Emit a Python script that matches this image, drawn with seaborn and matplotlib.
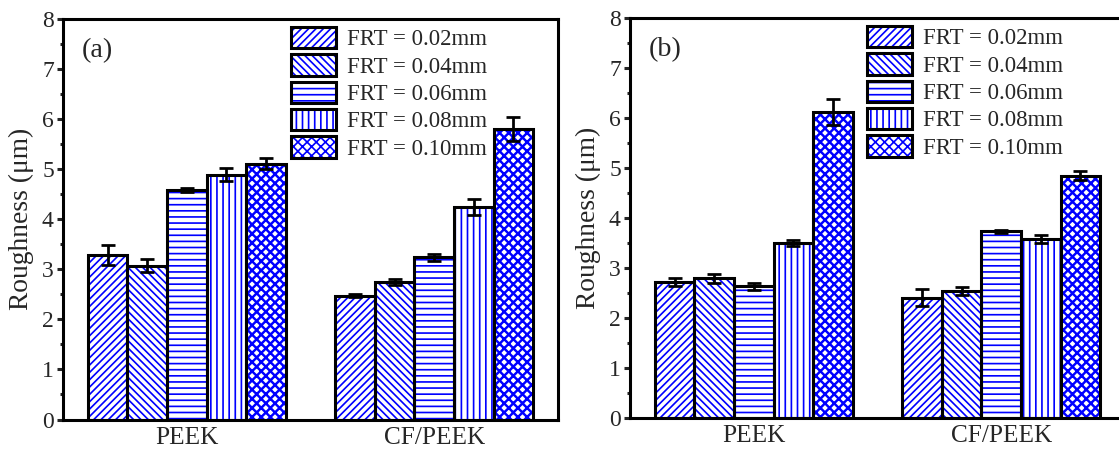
import numpy as np
import pandas as pd
import matplotlib
matplotlib.use("Agg")
import matplotlib.pyplot as plt
import seaborn as sns
from matplotlib.patches import Rectangle, Patch
from matplotlib.ticker import MultipleLocator
from matplotlib.legend_handler import HandlerTuple

# ---- data -------------------------------------------------------------
materials = ["PEEK", "CF/PEEK"]
frt_labels = ["FRT = 0.02mm", "FRT = 0.04mm", "FRT = 0.06mm",
              "FRT = 0.08mm", "FRT = 0.10mm"]

# panel (a)
rough_a_peek = [3.29, 3.07, 4.59, 4.89, 5.11]
err_a_peek = [0.20, 0.13, 0.04, 0.13, 0.11]
rough_a_cf = [2.47, 2.75, 3.24, 4.25, 5.81]
err_a_cf = [0.03, 0.06, 0.07, 0.16, 0.24]

# panel (b)
rough_b_peek = [2.72, 2.79, 2.63, 3.49, 6.12]
err_b_peek = [0.08, 0.09, 0.07, 0.06, 0.26]
rough_b_cf = [2.40, 2.53, 3.73, 3.58, 4.84]
err_b_cf = [0.17, 0.08, 0.03, 0.08, 0.09]

panel_tags = ["(a)", "(b)"]

# ---- style ------------------------------------------------------------
sns.set_style("ticks")
DPI = 110
plt.rcParams["font.family"] = ["Liberation Serif", "DejaVu Serif"]
plt.rcParams["hatch.linewidth"] = 1.1
plt.rcParams["axes.linewidth"] = 2.0

hatches = ["/////", "\\\\\\\\\\", "---", "|||", "xxxx"]
hatch_widths = [1.1, 1.1, 1.1, 1.1, 1.6]
hatch_blue = (0.0, 0.0, 1.0)


def style_hatch(patch, k):
    patch.set_hatch(hatches[k])
    if hasattr(patch, "set_hatch_linewidth"):
        patch.set_hatch_linewidth(hatch_widths[k])


def long_table(peek, cf, err_peek, err_cf):
    rows = []
    for i, lab in enumerate(frt_labels):
        rows.append({"material": materials[0], "frt": lab,
                     "roughness": peek[i], "err": err_peek[i]})
        rows.append({"material": materials[1], "frt": lab,
                     "roughness": cf[i], "err": err_cf[i]})
    return pd.DataFrame(rows)


def draw_panel(ax, df, tag, leg_x):
    sns.barplot(data=df, x="material", y="roughness", hue="frt",
                order=materials, hue_order=frt_labels,
                palette=["white"] * len(frt_labels), errorbar=None,
                width=0.8, legend=False, ax=ax)
    bar_groups = list(ax.containers)
    for k, container in enumerate(bar_groups):
        sub = df[df["frt"] == frt_labels[k]].set_index("material").loc[materials]
        xs, ys = [], []
        for bar in container:
            bar.set_facecolor("white")
            bar.set_edgecolor(hatch_blue)
            bar.set_linewidth(0)
            style_hatch(bar, k)
            ax.add_patch(Rectangle(bar.get_xy(), bar.get_width(), bar.get_height(),
                                   fill=False, edgecolor="black", linewidth=2.0,
                                   zorder=3))
            xs.append(bar.get_x() + bar.get_width() / 2)
            ys.append(bar.get_height())
        ax.errorbar(xs, ys, yerr=sub["err"].values, fmt="none", ecolor="black",
                    elinewidth=1.8, capsize=4.5, capthick=1.8, zorder=4)

    ax.set_xlim(-0.5, 1.5)
    ax.set_ylim(0, 8)
    ax.yaxis.set_major_locator(MultipleLocator(1))
    ax.yaxis.set_minor_locator(MultipleLocator(0.5))
    ax.tick_params(axis="y", which="major", direction="out", length=4,
                   width=2, labelsize=15.5, pad=2)
    ax.tick_params(axis="y", which="minor", direction="out", length=2, width=2)
    ax.tick_params(axis="x", which="both", length=0, labelsize=16.5, pad=5)
    for s in ax.spines.values():
        s.set_visible(True)
        s.set_linewidth(2.0)
        s.set_color("black")
    ax.set_xlabel("")
    ax.set_ylabel("Roughness (μm)", fontsize=18, labelpad=5)
    ax.text(0.038, 0.92, tag, transform=ax.transAxes, fontsize=18.5,
            ha="left", va="center")

    handles = []
    for k in range(len(hatches)):
        swatch = Patch(facecolor="white", edgecolor=hatch_blue, linewidth=0)
        style_hatch(swatch, k)
        handles.append((swatch, Patch(fill=False, edgecolor="black", linewidth=2.0)))
    ax.legend(handles, frt_labels, loc="upper left",
              bbox_to_anchor=(leg_x, 0.98), frameon=False, fontsize=15,
              handlelength=1.95, handleheight=1.05, handletextpad=0.5,
              labelspacing=0.17, borderpad=0, borderaxespad=0,
              handler_map={tuple: HandlerTuple(ndivide=1, pad=0)})


fig = plt.figure(figsize=(1119 / DPI, 452 / DPI), dpi=DPI)
W, H = 1119, 452
ax_a = fig.add_axes([63 / W, 32.5 / H, 495 / W, 400.5 / H])
ax_b = fig.add_axes([630 / W, 34.5 / H, 495 / W, 399.5 / H])

draw_panel(ax_a, long_table(rough_a_peek, rough_a_cf, err_a_peek, err_a_cf),
           panel_tags[0], 0.461)
draw_panel(ax_b, long_table(rough_b_peek, rough_b_cf, err_b_peek, err_b_cf),
           panel_tags[1], 0.479)

fig.savefig("out.png", dpi=DPI)
